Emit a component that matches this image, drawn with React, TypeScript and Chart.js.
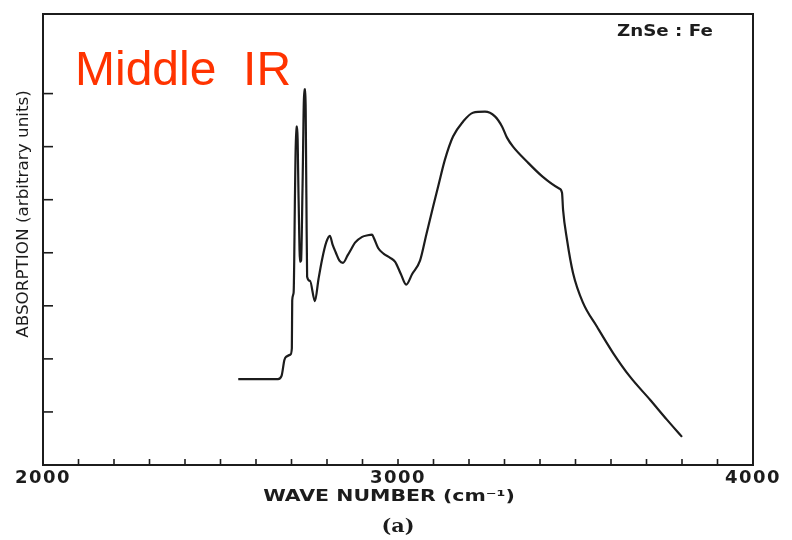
import React, { useEffect, useRef } from "react";
import { Chart, registerables } from "chart.js";

Chart.register(...registerables);

// Wave number (cm^-1) and absorption (arbitrary units)
const waveNumbers = [
  2550, 2662, 2672, 2680, 2685, 2697, 2701, 2702, 2706, 2710, 2713, 2716, 2720, 2724, 2727, 2731,
  2736, 2739, 2742, 2744, 2752, 2766, 2776, 2786, 2798, 2808, 2816, 2825, 2835, 2845, 2858, 2870,
  2879, 2899, 2915, 2927, 2932, 2944, 2960, 2977, 2992, 3008, 3023, 3040, 3062, 3080, 3099, 3115,
  3132, 3155, 3183, 3211, 3245, 3273, 3293, 3307, 3324, 3363, 3408, 3454, 3462, 3465, 3476, 3493,
  3521, 3561, 3606, 3654, 3710, 3758, 3800,
];
const absorption = [
  1.62, 1.62, 1.68, 1.98, 2.04, 2.08, 2.2, 3.1, 3.25, 5.2, 6.38, 6.38, 5.0, 3.83, 3.85, 5.2,
  7.08, 7.08, 5.0, 3.55, 3.47, 3.09, 3.5, 3.87, 4.2, 4.32, 4.15, 4.0, 3.85, 3.81, 3.95, 4.09,
  4.19, 4.3, 4.33, 4.34, 4.28, 4.09, 3.98, 3.91, 3.83, 3.6, 3.4, 3.6, 3.85, 4.35, 4.87, 5.3,
  5.75, 6.19, 6.47, 6.64, 6.66, 6.57, 6.38, 6.17, 6.0, 5.72, 5.43, 5.21, 5.13, 4.81, 4.25, 3.62,
  3.06, 2.6, 2.11, 1.66, 1.23, 0.85, 0.53,
];

const xMin = 2000;
const xMax = 4000;
const xMinorStep = 100;
const xLabeled = [2000, 3000, 4000];
const yMin = 0;
const yMax = 8.5;
const yTickValues = [1, 2, 3, 4, 5, 6, 7];

const xTitle = "WAVE NUMBER (cm\u207B\u00B9)";
const yTitle = "ABSORPTION (arbitrary units)";
const sampleLabel = "ZnSe : Fe";
const overlayLabel = "Middle  IR";
const panelLabel = "(a)";

const ink = "#1c1c1c";

function wideText(ctx: any, text: string, x: number, y: number, sx: number, align: string) {
  ctx.save();
  ctx.translate(x, y);
  ctx.scale(sx, 1);
  ctx.textAlign = align;
  ctx.fillText(text, 0, 0);
  ctx.restore();
}

const framePlugin = {
  id: "framePlugin",
  beforeDraw(chart: any) {
    (chart.ctx as any).letterSpacing = "1.5px";
  },
  afterDraw(chart: any) {
    const { chartArea, scales } = chart;
    const ctx: any = chart.ctx;
    ctx.letterSpacing = "0px";
    const xs = scales.x;
    const ys = scales.y;
    ctx.save();
    // frame
    ctx.strokeStyle = ink;
    ctx.lineWidth = 2;
    ctx.strokeRect(chartArea.left, chartArea.top, chartArea.right - chartArea.left, chartArea.bottom - chartArea.top);
    // x minor ticks (inward)
    ctx.lineWidth = 1.6;
    for (let v = xMin + xMinorStep; v < xMax; v += xMinorStep) {
      const px = xs.getPixelForValue(v);
      ctx.beginPath();
      ctx.moveTo(px, chartArea.bottom);
      ctx.lineTo(px, chartArea.bottom - 6);
      ctx.stroke();
    }
    // y ticks (inward)
    for (const v of yTickValues) {
      const py = ys.getPixelForValue(v);
      ctx.beginPath();
      ctx.moveTo(chartArea.left, py);
      ctx.lineTo(chartArea.left + 10, py);
      ctx.stroke();
    }
    // titles
    ctx.fillStyle = ink;
    ctx.textBaseline = "middle";
    ctx.font = "bold 16px 'DejaVu Sans'";
    wideText(ctx, xTitle, xs.getPixelForValue(3000) - 9, 497, 1.28, "center");
    ctx.font = "bold 18px 'DejaVu Serif'";
    wideText(ctx, panelLabel, xs.getPixelForValue(3000), 527, 1.15, "center");
    ctx.save();
    ctx.translate(24, 214);
    ctx.rotate(-Math.PI / 2);
    ctx.font = "15px 'DejaVu Sans'";
    wideText(ctx, yTitle, 0, 0, 1.12, "center");
    ctx.restore();
    ctx.font = "bold 16px 'DejaVu Sans'";
    wideText(ctx, sampleLabel, 617, 32, 1.14, "left");
    ctx.textBaseline = "alphabetic";
    ctx.fillStyle = "#ff3300";
    ctx.font = "48px 'Liberation Sans'";
    ctx.textAlign = "left";
    ctx.fillText(overlayLabel, 75, 85);
    ctx.restore();
  },
};

export default function App() {
  const ref = useRef<HTMLCanvasElement | null>(null);
  useEffect(() => {
    if (!ref.current) return;
    const chart = new Chart(ref.current, {
      type: "line",
      data: {
        datasets: [
          {
            data: waveNumbers.map((w, i) => ({ x: w, y: absorption[i] })),
            borderColor: ink,
            borderWidth: 2.2,
            pointRadius: 0,
            cubicInterpolationMode: "monotone",
            fill: false,
          },
        ],
      },
      options: {
        responsive: false,
        animation: false,
        layout: { padding: { left: 0, top: 14, right: 39, bottom: 0 } },
        plugins: { legend: { display: false }, tooltip: { enabled: false }, title: { display: false } },
        scales: {
          x: {
            type: "linear",
            min: xMin,
            max: xMax,
            grid: { display: false },
            border: { display: false },
            ticks: {
              stepSize: xMinorStep,
              autoSkip: false,
              maxRotation: 0,
              padding: -5,
              color: ink,
              font: { family: "DejaVu Sans", weight: "bold", size: 18 },
              callback: (v: any) => (xLabeled.includes(Number(v)) ? String(v) : ""),
            },
            afterFit: (s: any) => {
              s.height = 75;
            },
          },
          y: {
            min: yMin,
            max: yMax,
            grid: { display: false },
            border: { display: false },
            ticks: { display: false },
            afterFit: (s: any) => {
              s.width = 43;
            },
          },
        },
      },
      plugins: [framePlugin],
    });
    return () => chart.destroy();
  }, []);
  return (
    <div style={{ position: "absolute", left: 0, top: 0, width: 792, height: 540, background: "#fff" }}>
      <canvas ref={ref} width={792} height={540} />
    </div>
  );
}
